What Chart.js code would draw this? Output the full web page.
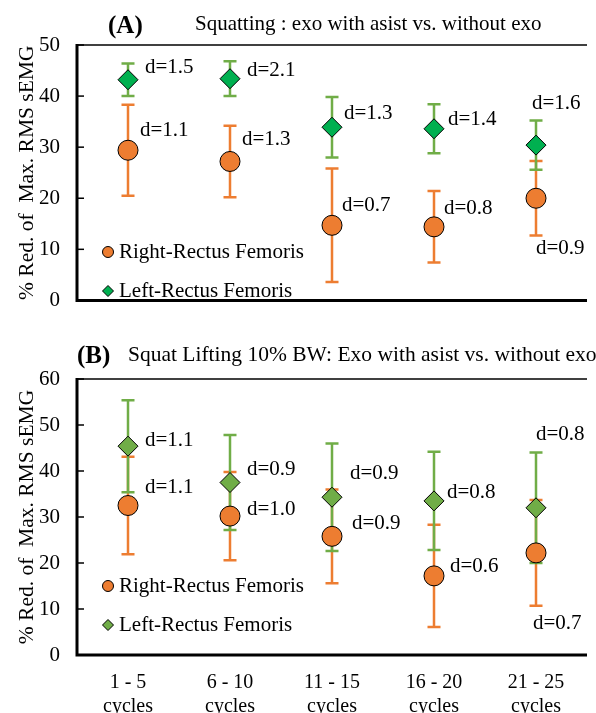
<!DOCTYPE html>
<html>
<head>
<meta charset="utf-8">
<script src="https://cdn.jsdelivr.net/npm/chart.js@4.4.0/dist/chart.umd.min.js"></script>
<style>
  html, body { margin: 0; padding: 0; background: #fff; overflow: hidden; width: 596px; height: 713px; }
  canvas { position: absolute; left: 0; }
  #chartA { top: 0; }
  #chartB { top: 330px; }
</style>
</head>
<body>
<canvas id="chartA" width="598" height="330"></canvas>
<canvas id="chartB" width="598" height="383"></canvas>
<script>
(function () {
  const FONT = "'Liberation Serif', 'Times New Roman', serif";

  // x categories (two-line tick labels)
  const categories = [
    ['1 - 5', 'cycles'],
    ['6 - 10', 'cycles'],
    ['11 - 15', 'cycles'],
    ['16 - 20', 'cycles'],
    ['21 - 25', 'cycles']
  ];
  const seriesNames = ['Right-Rectus Femoris', 'Left-Rectus Femoris'];
  const yTitle = '% Red. of  Max. RMS sEMG';

  // Panel A: squatting
  const titleA = ['(A)', 'Squatting : exo with asist vs. without exo'];
  const rightA = [29.4, 27.2, 14.7, 14.4, 20.0];
  const rightAErr = [8.9, 7.0, 11.1, 7.0, 7.3];
  const rightAd = [1.1, 1.3, 0.7, 0.8, 0.9];
  const leftA = [43.2, 43.4, 33.9, 33.6, 30.4];
  const leftAErr = [3.2, 3.4, 5.9, 4.8, 4.8];
  const leftAd = [1.5, 2.1, 1.3, 1.4, 1.6];
  const yTicksA = [0, 10, 20, 30, 40, 50];

  // Panel B: squat lifting 10% BW
  const titleB = ['(B)', 'Squat Lifting 10% BW: Exo with asist vs. without exo'];
  const rightB = [32.5, 30.2, 25.8, 17.2, 22.2];
  const rightBErr = [10.6, 9.6, 10.2, 11.1, 11.5];
  const rightBd = [1.1, 1.0, 0.9, 0.6, 0.7];
  const leftB = [45.4, 37.5, 34.3, 33.5, 32.0];
  const leftBErr = [10.0, 10.3, 11.7, 10.7, 12.0];
  const leftBd = [1.1, 0.9, 0.9, 0.8, 0.8];
  const yTicksB = [0, 10, 20, 30, 40, 50, 60];

  // label placement (pixel offsets from the marker centre)
  const rightALabelPos = [[12, -20], [12, -22], [10, -20], [10, -18], [0, 50]];
  const leftALabelPos = [[17, -12], [17, -8], [12, -14], [14, -9], [-4, -42]];
  const rightBLabelPos = [[17, -18], [17, -7], [20, -13], [16, -9], [-3, 71]];
  const leftBLabelPos = [[17, -6], [17, -13], [18, -24], [13, -8], [0, -73]];

  const ORANGE = '#ED7D31';
  const GREEN_DARK = '#00B050';
  const GREEN = '#70AD47';

  /**
   * Draw vertical error bars with caps, behind the markers
   */
  const errorBarPlugin = {
    id: 'errorBars',
    beforeDatasetsDraw(chart) {
      const ctx = chart.ctx;
      const yScale = chart.scales.y;
      chart.data.datasets.forEach((ds, i) => {
        const meta = chart.getDatasetMeta(i);
        ctx.save();
        ctx.strokeStyle = ds.errorColor;
        ctx.lineWidth = 2.5;
        meta.data.forEach((pt, j) => {
          const v = ds.data[j];
          const e = ds.errors[j];
          const top = yScale.getPixelForValue(v + e);
          const bot = yScale.getPixelForValue(v - e);
          ctx.beginPath();
          ctx.moveTo(pt.x, top);
          ctx.lineTo(pt.x, bot);
          ctx.moveTo(pt.x - 6.5, top);
          ctx.lineTo(pt.x + 6.5, top);
          ctx.moveTo(pt.x - 6.5, bot);
          ctx.lineTo(pt.x + 6.5, bot);
          ctx.stroke();
        });
        ctx.restore();
      });
    }
  };

  /**
   * Frame, inward ticks, d= labels, legend and panel title
   */
  const decorPlugin = {
    id: 'decor',
    afterDraw(chart, args, opts) {
      const ctx = chart.ctx;
      const area = chart.chartArea;
      const yScale = chart.scales.y;
      ctx.save();

      // top border (thin)
      ctx.strokeStyle = '#404040';
      ctx.lineWidth = 2;
      ctx.beginPath();
      ctx.moveTo(area.left, area.top);
      ctx.lineTo(area.right, area.top);
      ctx.stroke();

      // inward tick marks
      ctx.strokeStyle = '#000';
      ctx.lineWidth = 1.5;
      yScale.ticks.forEach(t => {
        const py = yScale.getPixelForValue(t.value);
        ctx.beginPath();
        ctx.moveTo(area.left, py);
        ctx.lineTo(area.left + 7, py);
        ctx.stroke();
      });

      // left and bottom axis lines (thick)
      ctx.lineWidth = 3;
      ctx.beginPath();
      ctx.moveTo(area.left, area.top - 1);
      ctx.lineTo(area.left, area.bottom);
      ctx.lineTo(area.right, area.bottom);
      ctx.stroke();

      // d= labels
      ctx.fillStyle = '#000';
      ctx.font = '21px ' + FONT;
      ctx.textAlign = 'left';
      ctx.textBaseline = 'middle';
      chart.data.datasets.forEach((ds, i) => {
        const meta = chart.getDatasetMeta(i);
        meta.data.forEach((pt, j) => {
          const off = ds.labelPos[j];
          ctx.fillText('d=' + ds.effect[j].toFixed(1), pt.x + off[0], pt.y + off[1]);
        });
      });

      // legend inside plot
      chart.data.datasets.forEach((ds, i) => {
        const lx = area.left + 31;
        const ly = area.top + 207 + i * 39;
        ctx.fillStyle = ds.backgroundColor;
        ctx.strokeStyle = '#000';
        ctx.lineWidth = 1;
        Chart.helpers.drawPoint(ctx, {
          pointStyle: ds.pointStyle,
          radius: 5.5,
          rotation: 0,
          borderWidth: 1
        }, lx, ly);
        ctx.fillStyle = '#000';
        ctx.font = '21px ' + FONT;
        ctx.textAlign = 'left';
        ctx.textBaseline = 'middle';
        ctx.fillText(ds.label, lx + 11, ly);
      });

      // panel title
      ctx.fillStyle = '#000';
      ctx.textBaseline = 'middle';
      ctx.font = 'bold 25px ' + FONT;
      ctx.fillText(opts.tag, opts.tagX, opts.tagY);
      ctx.font = opts.size + 'px ' + FONT;
      ctx.fillText(opts.text, opts.textX, opts.textY);

      ctx.restore();
    }
  };

  function makePanel(canvasId, cfg) {
    const ctx = document.getElementById(canvasId).getContext('2d');
    return new Chart(ctx, {
      type: 'line',
      data: {
        labels: categories,
        datasets: [
          {
            label: seriesNames[0],
            data: cfg.right,
            errors: cfg.rightErr,
            effect: cfg.rightD,
            labelPos: cfg.rightPos,
            errorColor: ORANGE,
            showLine: false,
            pointStyle: 'circle',
            pointRadius: 10,
            pointHoverRadius: 10,
            backgroundColor: ORANGE,
            borderColor: '#000',
            pointBorderWidth: 1
          },
          {
            label: seriesNames[1],
            data: cfg.left,
            errors: cfg.leftErr,
            effect: cfg.leftD,
            labelPos: cfg.leftPos,
            errorColor: GREEN,
            showLine: false,
            pointStyle: 'rectRot',
            pointRadius: 10,
            pointHoverRadius: 10,
            backgroundColor: cfg.leftColor,
            borderColor: '#000',
            pointBorderWidth: 1
          }
        ]
      },
      options: {
        responsive: false,
        animation: false,
        events: [],
        layout: { padding: cfg.padding },
        scales: {
          x: {
            type: 'category',
            offset: true,
            display: cfg.showX,
            grid: { display: false, drawTicks: false },
            border: { display: false },
            ticks: {
              color: '#000',
              padding: 16,
              font: { family: FONT, size: 20, lineHeight: 1.18 },
              maxRotation: 0,
              autoSkip: false
            },
            afterFit(scale) { if (cfg.showX) scale.height = 58; }
          },
          y: {
            min: 0,
            max: cfg.yTicks[cfg.yTicks.length - 1],
            afterBuildTicks(scale) {
              scale.ticks = cfg.yTicks.map(v => ({ value: v }));
            },
            grid: { display: false, drawTicks: false },
            border: { display: false },
            ticks: {
              color: '#000',
              padding: 17,
              font: { family: FONT, size: 21 }
            },
            title: {
              display: true,
              text: yTitle,
              color: '#000',
              font: { family: FONT, size: 21.5 },
              padding: { top: 14, bottom: 0 }
            },
            afterFit(scale) { scale.width = 77; }
          }
        },
        plugins: {
          legend: { display: false },
          tooltip: { enabled: false },
          decor: cfg.title
        }
      },
      plugins: [errorBarPlugin, decorPlugin]
    });
  }

  makePanel('chartA', {
    right: rightA, rightErr: rightAErr, rightD: rightAd, rightPos: rightALabelPos,
    left: leftA, leftErr: leftAErr, leftD: leftAd, leftPos: leftALabelPos,
    leftColor: GREEN_DARK,
    yTicks: yTicksA,
    showX: false,
    padding: { top: 45, bottom: 9, left: 0, right: 0 },
    title: { tag: titleA[0], tagX: 108, tagY: 27, text: titleA[1], textX: 195, textY: 24, size: 21 }
  });

  makePanel('chartB', {
    right: rightB, rightErr: rightBErr, rightD: rightBd, rightPos: rightBLabelPos,
    left: leftB, leftErr: leftBErr, leftD: leftBd, leftPos: leftBLabelPos,
    leftColor: GREEN,
    yTicks: yTicksB,
    showX: true,
    padding: { top: 49, bottom: 0, left: 0, right: 0 },
    title: { tag: titleB[0], tagX: 77, tagY: 27, text: titleB[1], textX: 128, textY: 25, size: 21.5 }
  });
})();
</script>
</body>
</html>
